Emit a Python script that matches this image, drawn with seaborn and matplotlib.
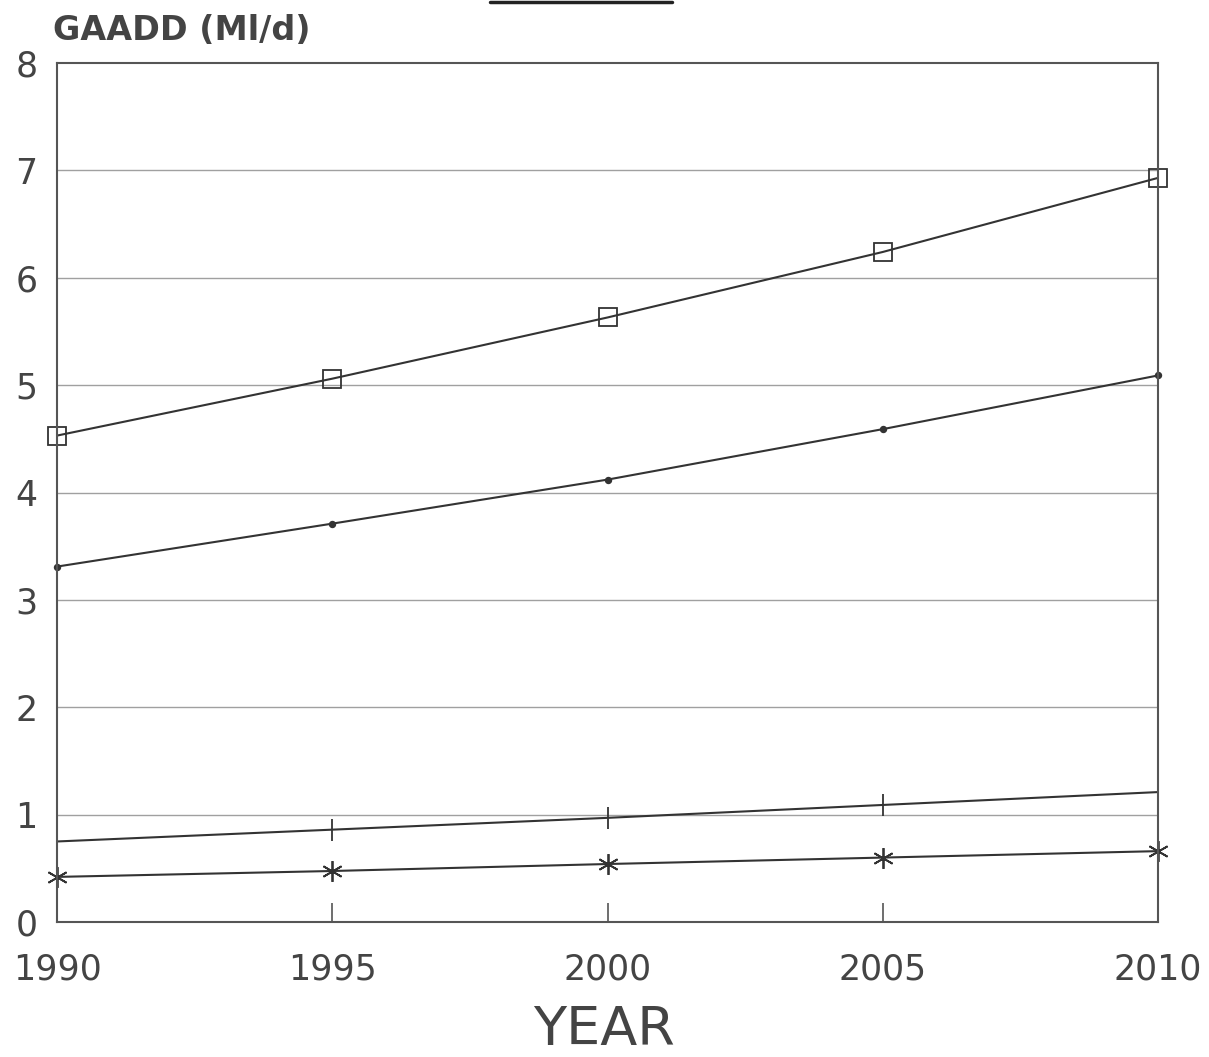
from matplotlib import pyplot as plt
from matplotlib.lines import Line2D
import seaborn as sns
import pandas as pd

years = [1990, 1995, 2000, 2005, 2010]
square_vals = [4.53, 5.06, 5.63, 6.24, 6.93]
dot_vals = [3.31, 3.71, 4.12, 4.59, 5.09]
plus_vals = [0.75, 0.86, 0.97, 1.09, 1.21]
star_vals = [0.42, 0.475, 0.54, 0.60, 0.66]
y_ticks = [0, 1, 2, 3, 4, 5, 6, 7, 8]

series = [
    (square_vals, 's', 13, 'none'),
    (dot_vals, 'o', 4, '#333333'),
    (plus_vals, '|', 16, 'none'),
    (star_vals, (6, 2, 0), 15, 'none'),
]

sns.set_style('white')
plt.rcParams['font.family'] = ['DejaVu Sans']

fig = plt.figure(figsize=(12.09, 10.57), dpi=100)
ax = fig.add_axes([57 / 1209, 1 - 922 / 1057, (1158 - 57) / 1209, (922 - 63) / 1057])

for vals, marker, size, face in series:
    df = pd.DataFrame({'year': years, 'value': vals})
    sns.lineplot(data=df, x='year', y='value', ax=ax, color='#333333', linewidth=1.5,
                 marker=marker, markersize=size, markerfacecolor=face,
                 markeredgecolor='#333333', markeredgewidth=1.3, clip_on=False)

ax.set_xlim(1990, 2010)
ax.set_ylim(0, 8)
ax.set_xticks(years)
ax.set_yticks(y_ticks)
for t in y_ticks[1:-1]:
    ax.axhline(t, color='#a0a0a0', linewidth=1.0, zorder=0)

ax.tick_params(axis='x', bottom=True, direction='in', length=14, width=1.2, color='#555555',
               labelsize=25, labelcolor='#444444', pad=22)
ax.tick_params(axis='y', direction='in', length=0, labelsize=25, labelcolor='#444444', pad=14)
for s in ax.spines.values():
    s.set_color('#555555')
    s.set_linewidth(1.5)

ax.set_xlabel('')
ax.set_ylabel('')
fig.text(53 / 1209, 1 - 30 / 1057, 'GAADD (Ml/d)', fontsize=24, color='#444444',
         fontweight='bold', va='center', ha='left')
fig.text(604 / 1209, 1 - 1030 / 1057, 'YEAR', fontsize=39, color='#444444',
         va='center', ha='center')
fig.add_artist(Line2D([490 / 1209, 672 / 1209], [1 - 2 / 1057, 1 - 2 / 1057],
                      color='#222222', linewidth=2.5, transform=fig.transFigure))

plt.savefig('out.png', dpi=100)
